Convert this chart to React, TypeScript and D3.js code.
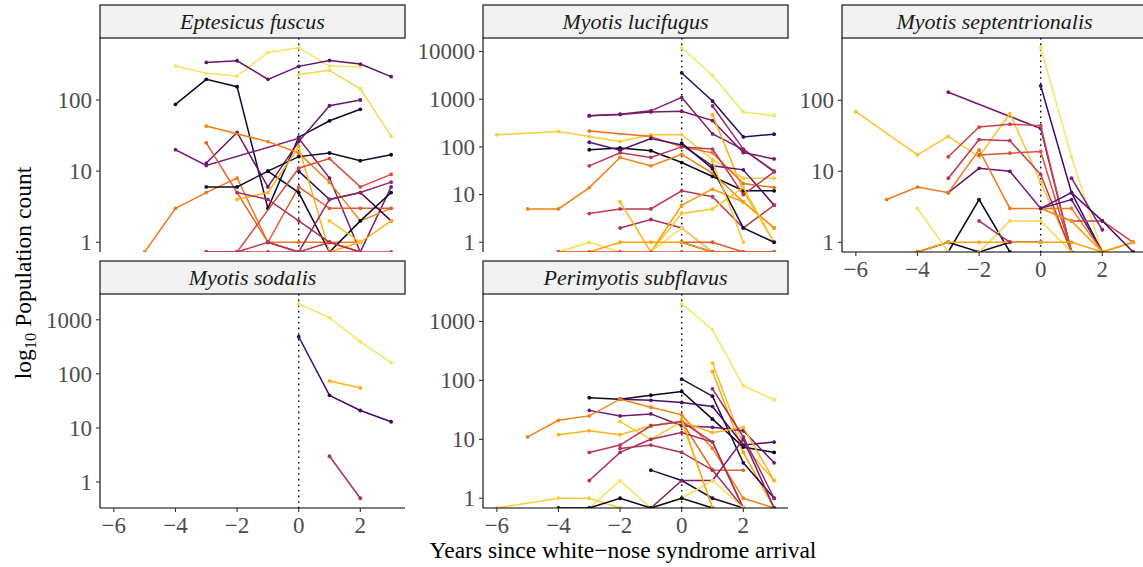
import React from "react";
import * as d3 from "d3";

// Survey years relative to white-nose syndrome arrival
const years = [-6, -5, -4, -3, -2, -1, 0, 1, 2, 3];
const xTicks = [-6, -4, -2, 0, 2];

const _ = null;
type Series = { site: number; counts: (number | null)[] };

// Winter counts per hibernaculum; site = relative latitude rank (0-1), null = no survey
const eptesicus: Series[] = [
  { site: 0.93, counts: [_, _, 300, 237, 217, 467, 543, 300, 294, _] },
  { site: 0.91, counts: [_, _, _, _, _, _, 229, 261, 144, 31] },
  { site: 0.28, counts: [_, _, _, 337, 356, 195, 297, 360, 320, 213] },
  { site: 0.08, counts: [_, _, 87, 195, 154, 3, 30, 51, 74, _] },
  { site: 0.3, counts: [_, _, _, 13, 35, 6, 26, 83, 100, _] },
  { site: 0.33, counts: [_, _, 20, 12, _, _, 29, 8, 0, 6] },
  { site: 0.72, counts: [_, _, _, 43, _, 26, 18, 7, 2, 3] },
  { site: 0.63, counts: [_, _, _, 25, _, 1, 6, 3, 3, 3] },
  { site: 0.7, counts: [_, 0, 3, 5, 8, 1, 1, 1, 1, _] },
  { site: 0.08, counts: [_, _, _, 6, 6, 10, 16, 18, 14, 17] },
  { site: 0.15, counts: [_, _, _, _, _, _, 10, 4, 5, 2] },
  { site: 0.06, counts: [_, _, _, _, _, 10, 5, 0, 2, 5] },
  { site: 0.83, counts: [_, _, _, _, 4, 5, 22, 0, 1, 2] },
  { site: 0.86, counts: [_, _, _, _, _, _, _, 2, 1, _] },
  { site: 0.45, counts: [_, _, _, _, 5, 4, 2, 1, 0, _] },
  { site: 0.55, counts: [_, _, _, 0, 0, 0, 0, 0, 0, 0] },
  { site: 0.58, counts: [_, _, _, _, 0, _, 11, 15, 6, 9] },
  { site: 0.4, counts: [_, _, _, _, _, 1, 0, 4, 5, 7] },
  { site: 0.5, counts: [_, _, _, 0, 0, 1, 0, 1, 0, _] },
];

const lucifugus: Series[] = [
  { site: 0.93, counts: [_, _, _, _, _, _, 12000, 3150, 540, 450] },
  { site: 0.15, counts: [_, _, _, _, _, _, 3550, 915, 162, 185] },
  { site: 0.35, counts: [_, _, _, 450, 485, 570, 1090, 187, 88, 31] },
  { site: 0.32, counts: [_, _, _, 450, 480, 540, 560, 355, 76, 56] },
  { site: 0.4, counts: [_, _, _, _, _, _, _, 720, 90, 30] },
  { site: 0.82, counts: [_, _, _, _, _, _, _, 470, 12, 1] },
  { site: 0.88, counts: [180, _, 210, 165, 130, 180, 180, 54, 22, 22] },
  { site: 0.68, counts: [_, _, _, 215, _, 165, 100, 75, 17, 14] },
  { site: 0.06, counts: [_, _, _, 87, 95, 83, 47, 24, 12, 12] },
  { site: 0.25, counts: [_, _, _, 125, 85, 150, 110, 40, 33, 6] },
  { site: 0.5, counts: [_, _, _, 40, 75, 60, 100, 90, 10, 30] },
  { site: 0.72, counts: [_, 5, 5, 14, 60, 40, 70, 28, 7, 2] },
  { site: 0.5, counts: [_, _, _, 4, 5, 5, 12, 9, 2, 6] },
  { site: 0.45, counts: [_, _, _, _, 2, 3, 2, 0, _, _] },
  { site: 0.83, counts: [_, _, _, _, 7, 0, _, _, _, _] },
  { site: 0.78, counts: [_, _, _, _, _, 0, 6, 13, 7, 2] },
  { site: 0.86, counts: [_, _, _, _, _, 0, 4, 5, 14, 1] },
  { site: 0.92, counts: [_, _, 0, 1, 0, 0, 2, 0, 0, _] },
  { site: 0.62, counts: [_, _, _, _, _, _, 1, 1, 0, 0] },
  { site: 0.05, counts: [_, _, _, _, _, _, 1, 0, _, _] },
  { site: 0.8, counts: [_, _, 0, 0, 1, 1, 1, 0, 0, _] },
  { site: 0.6, counts: [_, _, 0, 0, 0, 0, 0, 0, 0, 0] },
  { site: 0.1, counts: [_, _, _, _, _, _, 120, 35, 2, 1] },
  { site: 0.87, counts: [_, _, _, _, _, _, _, 50, 1, _] },
];

const septentrionalis: Series[] = [
  { site: 0.93, counts: [_, _, _, _, _, _, 550, 16, 0, _] },
  { site: 0.2, counts: [_, _, _, _, _, _, 160, 5, 0, _] },
  { site: 0.32, counts: [_, _, _, 130, _, _, 40, 0, _, _] },
  { site: 0.86, counts: [69, _, 17, 31, 16, 65, 7, 0, _, _] },
  { site: 0.55, counts: [_, _, _, 16, 42, 46, 44, 0, _, _] },
  { site: 0.5, counts: [_, _, _, 8, 28, 27, 9, 0, _, _] },
  { site: 0.6, counts: [_, _, _, _, 17, 18, 19, 0, _, _] },
  { site: 0.3, counts: [_, _, _, 5, 11, 10, 3, 4, 0, _] },
  { site: 0.7, counts: [_, 4, 6, 5, 20, 3, 3, 3, 0, 1] },
  { site: 0.06, counts: [_, _, _, 0, 4, 0, _, _, _, _] },
  { site: 0.08, counts: [_, _, 0, 1, 0, 1, 1, _, _, _] },
  { site: 0.55, counts: [_, _, _, _, _, _, 3, 2, 2, 1] },
  { site: 0.35, counts: [_, _, _, _, _, _, _, 8, 1.5, _] },
  { site: 0.92, counts: [_, _, 3, 0, _, _, _, _, _, _] },
  { site: 0.9, counts: [_, _, _, _, 0, 2, 2, 0, _, _] },
  { site: 0.8, counts: [_, _, 0, 1, 1, 1, 1, 1, 0, 1] },
  { site: 0.78, counts: [_, _, _, _, _, _, 3, 2, 0, _] },
  { site: 0.25, counts: [_, _, _, _, _, _, 3, 5, 2, 0] },
  { site: 0.45, counts: [_, _, _, _, 2, 1, _, _, _, _] },
];

const sodalis: Series[] = [
  { site: 0.93, counts: [_, _, _, _, _, _, 1980, 1100, 390, 162] },
  { site: 0.2, counts: [_, _, _, _, _, _, 485, 40, 21, 13] },
  { site: 0.82, counts: [_, _, _, _, _, _, _, 74, 55, _] },
  { site: 0.45, counts: [_, _, _, _, _, _, _, 3, 0.5, _] },
];

const subflavus: Series[] = [
  { site: 0.93, counts: [_, _, _, _, _, _, 2000, 725, 81, 47] },
  { site: 0.84, counts: [_, _, _, _, _, _, _, 196, 8, 2] },
  { site: 0.8, counts: [_, _, _, _, _, _, _, 142, 6, 0] },
  { site: 0.12, counts: [_, _, _, _, _, _, 105, 54, 4, 1] },
  { site: 0.05, counts: [_, _, _, 51, 48, 56, 65, 22, 7.4, 6] },
  { site: 0.22, counts: [_, _, _, _, 48, 46, 42, 36, 8, 9] },
  { site: 0.3, counts: [_, _, _, 31, 25, 27, 17, 16, 14, 4] },
  { site: 0.72, counts: [_, 11, 21, 25, 48, 35, 26, 7, 1, 0] },
  { site: 0.66, counts: [_, _, _, _, _, 17, 20, 3, 3, _] },
  { site: 0.83, counts: [_, _, 12, 14, 12, 17, 20, 13, 16, 2] },
  { site: 0.87, counts: [_, _, _, _, 20, 10, 20, 0, _, _] },
  { site: 0.5, counts: [_, _, _, 6, 8, 17, 20, 9, 0, _] },
  { site: 0.45, counts: [_, _, _, 2, 6, 10, 13, 9, 0, _] },
  { site: 0.42, counts: [_, _, _, _, _, _, _, 72, 11, 1] },
  { site: 0.48, counts: [_, _, _, _, 7, 8, 6, 3, 0, _] },
  { site: 0.12, counts: [_, _, _, _, _, 3, 2, 1, 0, _] },
  { site: 0.35, counts: [_, _, _, _, _, 0, 2, 2, 10, 0] },
  { site: 0.89, counts: [0, _, 1, 1, 0, _, _, _, _, _] },
  { site: 0.92, counts: [_, _, _, 0, 2, 0, 1, 2, 0, _] },
  { site: 0.06, counts: [_, _, 0, 0, 1, 0, 1, 0, _, _] },
  { site: 0.82, counts: [_, _, _, _, _, _, 22, 0, _, _] },
];

const species = [
  "Eptesicus fuscus",
  "Myotis lucifugus",
  "Myotis septentrionalis",
  "Myotis sodalis",
  "Perimyotis subflavus",
];
const speciesData = [eptesicus, lucifugus, septentrionalis, sodalis, subflavus];
const yTicks = [
  [1, 10, 100],
  [1, 10, 100, 1000, 10000],
  [1, 10, 100],
  [1, 10, 100, 1000],
  [1, 10, 100, 1000],
];

// facet geometry
const colLeft = [100, 483, 842];
const panelW = 305;
const rowStripTop = [5, 261];
const rowTop = [38, 294];
const rowBottom = [252, 508];

const color = d3.scaleSequential(d3.interpolateInferno).domain([0, 1]);
const serif = "'Liberation Serif', 'DejaVu Serif', serif";
const tickGrey = "#4d4d4d";
const tickSize = 23;

function Panel({ idx }: { idx: number }) {
  const col = idx % 3;
  const row = Math.floor(idx / 3);
  const left = colLeft[col];
  const top = rowTop[row];
  const bottom = rowBottom[row];
  const data = speciesData[idx];
  const showX = idx >= 2;

  const x = d3.scaleLinear().domain([-6.45, 3.45]).range([left, left + panelW]);

  const positives = data.flatMap((s) => s.counts.filter((v): v is number => v !== null && v > 0));
  const lo = Math.log10(d3.min(positives) as number);
  const hi = Math.log10(d3.max(positives) as number);
  const pad = 0.05 * (hi - lo);
  const y = d3
    .scaleLog()
    .domain([Math.pow(10, lo - pad), Math.pow(10, hi + pad)])
    .range([bottom, top]);

  const yOf = (v: number) => (v <= 0 ? bottom : y(v));
  const line = d3
    .line<[number, number]>()
    .x((d) => x(d[0]))
    .y((d) => yOf(d[1]));

  const clipId = `clip-${idx}`;

  return (
    <g>
      <defs>
        <clipPath id={clipId}>
          <rect x={left} y={top} width={panelW} height={bottom - top} />
        </clipPath>
      </defs>
      {/* strip */}
      <rect
        x={left}
        y={rowStripTop[row]}
        width={panelW}
        height={top - rowStripTop[row]}
        fill="#f2f2f2"
        stroke="#000"
        strokeWidth={1.1}
      />
      <text
        x={left + panelW / 2}
        y={rowStripTop[row] + 24.3}
        textAnchor="middle"
        fontFamily={serif}
        fontStyle="italic"
        fontSize={22}
        fill="#1a1a1a"
      >
        {species[idx]}
      </text>

      <g clipPath={`url(#${clipId})`}>
        <line
          x1={x(0)}
          x2={x(0)}
          y1={top}
          y2={bottom}
          stroke="#000"
          strokeWidth={1.4}
          strokeDasharray="1.6,4"
        />
        {data.map((s, i) => {
          const pts = years
            .map((yr, k) => [yr, s.counts[k]] as [number, number | null])
            .filter((p): p is [number, number] => p[1] !== null);
          const c = color(s.site);
          return (
            <g key={i}>
              <path d={line(pts) ?? ""} fill="none" stroke={c} strokeWidth={1.5} />
              {pts.map((p, k) => (
                <circle key={k} cx={x(p[0])} cy={yOf(p[1])} r={1.9} fill={c} />
              ))}
            </g>
          );
        })}
      </g>

      {/* y axis */}
      <line x1={left} x2={left} y1={top} y2={bottom} stroke="#000" strokeWidth={1.1} />
      {yTicks[idx].map((t) => (
        <g key={t}>
          <line x1={left - 4} x2={left} y1={y(t)} y2={y(t)} stroke="#333" strokeWidth={1.1} />
          <text
            x={left - 8}
            y={y(t) + 7.8}
            textAnchor="end"
            fontFamily={serif}
            fontSize={tickSize}
            fill={tickGrey}
          >
            {t}
          </text>
        </g>
      ))}

      {/* x axis */}
      {showX && (
        <g>
          <line x1={left} x2={left + panelW} y1={bottom} y2={bottom} stroke="#000" strokeWidth={1.1} />
          {xTicks.map((t) => (
            <g key={t}>
              <line x1={x(t)} x2={x(t)} y1={bottom} y2={bottom + 4} stroke="#333" strokeWidth={1.1} />
              <text
                x={x(t)}
                y={bottom + 25}
                textAnchor="middle"
                fontFamily={serif}
                fontSize={tickSize}
                fill={tickGrey}
              >
                {t < 0 ? `\u2212${Math.abs(t)}` : t}
              </text>
            </g>
          ))}
        </g>
      )}
    </g>
  );
}

export default function App() {
  return (
    <svg
      width={1143}
      height={567}
      style={{ position: "absolute", left: 0, top: 0, background: "#fff" }}
    >
      <rect x={0} y={0} width={1143} height={567} fill="#fff" />
      {species.map((_s, i) => (
        <Panel key={i} idx={i} />
      ))}
      <text
        transform="translate(31,273) rotate(-90)"
        textAnchor="middle"
        fontFamily={serif}
        fontSize={23.5}
        fill="#000"
      >
        log
        <tspan fontSize={16.5} dy={5}>
          10
        </tspan>
        <tspan dy={-5}> Population count</tspan>
      </text>
      <text
        x={623}
        y={557.5}
        textAnchor="middle"
        fontFamily={serif}
        fontSize={23.5}
        fill="#000"
      >
        Years since white{"\u2212"}nose syndrome arrival
      </text>
    </svg>
  );
}
